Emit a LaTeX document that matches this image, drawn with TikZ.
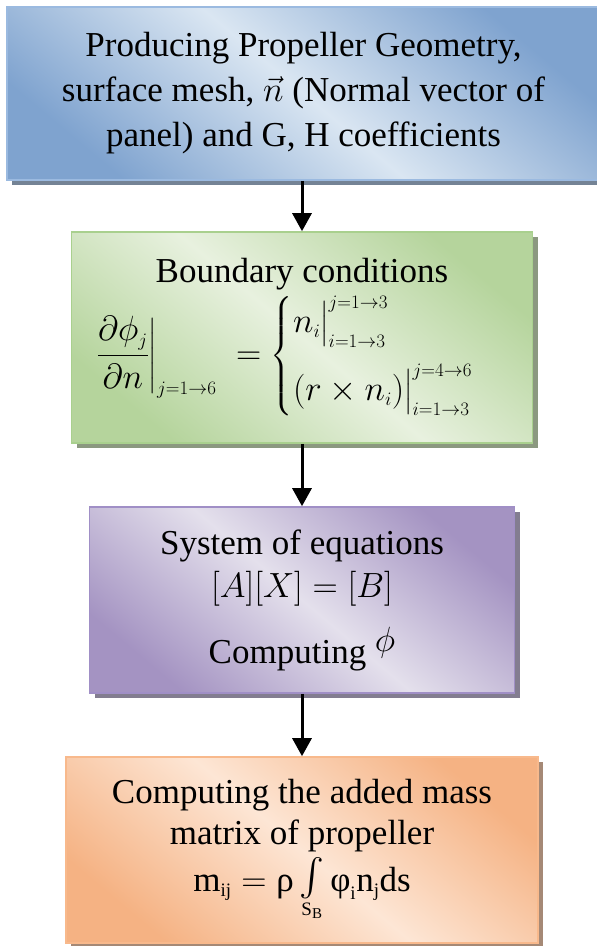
\RequirePackage{fix-cm}
\documentclass[tikz,border=0pt]{standalone}
\usepackage{amsmath}
\usepackage{fontspec}
\setmainfont{Liberation Serif}
\DeclareMathSizes{35}{35}{19}{15}
\usetikzlibrary{arrows.meta,shadows}
\definecolor{GeomDark}{HTML}{7FA3CF}
\definecolor{GeomLight}{HTML}{DAE6F2}
\definecolor{GeomEdge}{HTML}{9BBAE0}
\definecolor{BoundDark}{HTML}{B5D49C}
\definecolor{BoundLight}{HTML}{E8F1DF}
\definecolor{BoundEdge}{HTML}{A9D08E}
\definecolor{SysDark}{HTML}{A493C2}
\definecolor{SysLight}{HTML}{E4E0EC}
\definecolor{SysEdge}{HTML}{A08FC6}
\definecolor{MassDark}{HTML}{F5B283}
\definecolor{MassLight}{HTML}{FDE6D5}
\definecolor{MassEdge}{HTML}{F8B98C}

\begin{document}
\begin{tikzpicture}[x=1pt, y=-1pt,
  procbox/.style={draw=#1Edge, line width=1.6pt,
    top color=#1Dark, bottom color=#1Dark, middle color=#1Light, shading angle=-40,
    drop shadow={shadow xshift=5pt, shadow yshift=-5pt, fill=#1Dark!55!black, opacity=0.75},
    align=center, inner sep=0pt, font=\fontsize{35}{45}\selectfont},
  flow/.style={-{Triangle[length=18pt,width=19pt]}, line width=3pt}]
  \useasboundingbox (0,0) rectangle (597,946);

  \node[procbox=Geom, minimum width=593pt, minimum height=173pt] (geom) at (303.5,93.5)
    {Producing Propeller Geometry,\\
     surface mesh, $\vec{n}$ (Normal vector of\\
     panel) and G, H coefficients};

  \node[procbox=Bound, minimum width=461pt, minimum height=211pt] (bound) at (302,337.5)
    {Boundary conditions\\[4pt]
     $\displaystyle \left.\frac{\partial\phi_j}{\partial n}\right|_{j=1\to6}\;
      =\begin{cases}
        n_i\big|_{i=1\to3}^{j=1\to3}\\[14pt]
        (r\times n_i)\big|_{i=1\to3}^{j=4\to6}
      \end{cases}$};

  \node[procbox=Sys, minimum width=425pt, minimum height=186pt] (sys) at (302,600)
    {System of equations\\[-2pt]
     $[A][X]=[B]$\\[20pt]
     Computing \raisebox{12pt}{$\phi$}};

  \node[procbox=Mass, minimum width=472pt, minimum height=186pt] (mass) at (302,850)
    {Computing the added mass\\[-4pt]
     matrix of propeller\\[2pt]
     $\mathrm{m_{ij}}=\text{ρ}\mathop{\scalebox{1.5}{$\textstyle\int$}}\limits_{\mathrm{S_B}}\text{φ}_{\mathrm{i}}\mathrm{n}_{\mathrm{j}}\mathrm{ds}$};

  \draw[flow] (geom.south -| bound.north) -- (bound.north);
  \draw[flow] (bound.south) -- (sys.north);
  \draw[flow] (sys.south) -- (mass.north);
\end{tikzpicture}
\end{document}
